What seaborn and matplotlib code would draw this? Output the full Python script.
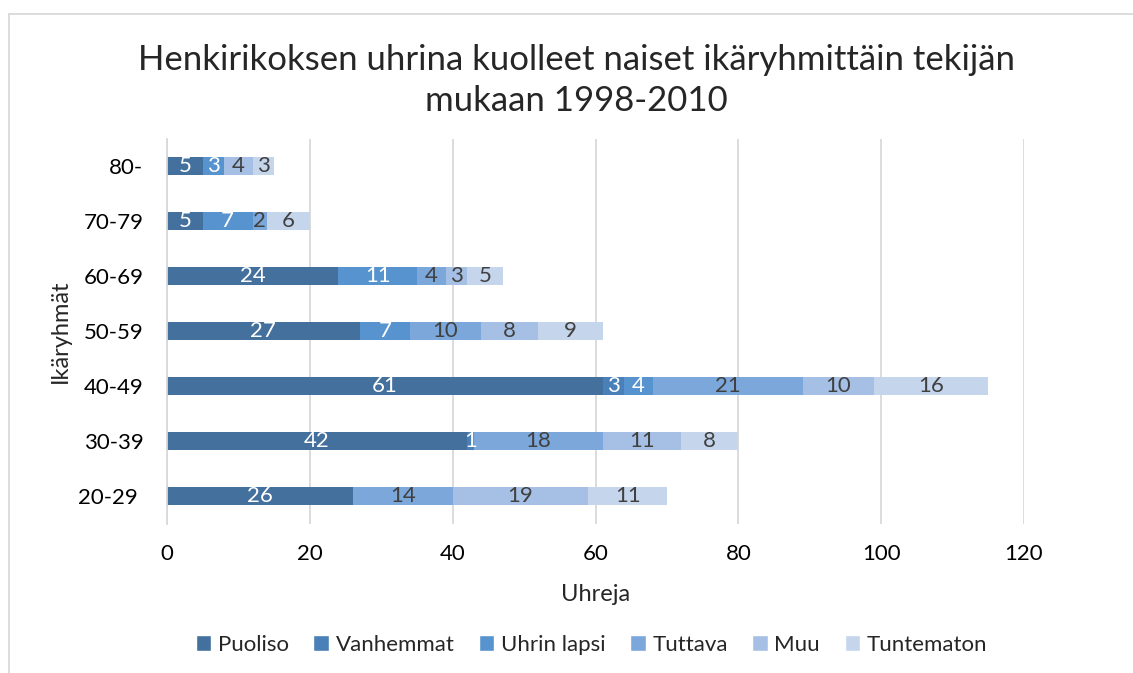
import numpy as np
import pandas as pd
import matplotlib.pyplot as plt
import seaborn as sns
from matplotlib.patches import Patch, Rectangle

# age groups, top to bottom as shown
groups = ["80-", "70-79", "60-69", "50-59", "40-49", "30-39", "20-29"]
tick_labels = ["80-", "70-79", "60-69", "50-59", "40-49", "30-39", "20-29 "]

series = ["Puoliso", "Vanhemmat", "Uhrin lapsi", "Tuttava", "Muu", "Tuntematon"]
puoliso = [5, 5, 24, 27, 61, 42, 26]
vanhemmat = [0, 0, 0, 0, 3, 1, 0]
uhrin_lapsi = [3, 7, 11, 7, 4, 0, 0]
tuttava = [0, 2, 4, 10, 21, 18, 14]
muu = [4, 0, 3, 8, 10, 11, 19]
tuntematon = [3, 6, 5, 9, 16, 8, 11]

colors = ["#43709d", "#4a80b8", "#5793ce", "#7ba7da", "#a5c0e4", "#c5d5ec"]
label_colors = ["white", "white", "white", "#404040", "#404040", "#404040"]

df = pd.DataFrame({"group": groups, "Puoliso": puoliso, "Vanhemmat": vanhemmat,
                   "Uhrin lapsi": uhrin_lapsi, "Tuttava": tuttava, "Muu": muu,
                   "Tuntematon": tuntematon})
cum = df[series].cumsum(axis=1)

sns.set_style("white")
plt.rcParams['font.family'] = ['Lato', 'DejaVu Sans']

fig = plt.figure(figsize=(11.33, 6.73), dpi=100)
ax = fig.add_axes([0.1474, 0.2221, 0.9038 - 0.1474, 0.7942 - 0.2221])

# stacked bars: draw totals first, then smaller cumulative sums on top
for i in range(len(series) - 1, -1, -1):
    tmp = pd.DataFrame({"group": groups, "val": cum[series[i]]})
    sns.barplot(data=tmp, x="val", y="group", order=groups, color=colors[i],
                width=0.33, saturation=1, ax=ax, linewidth=0)

for i, s in enumerate(series):
    for j in range(len(groups)):
        v = df[s].iloc[j]
        if v > 0:
            ax.text(cum[s].iloc[j] - v / 2, j, str(v), ha="center", va="center",
                    color=label_colors[i], fontsize=16)

ax.set_xlim(0, 120)
ax.set_xticks(range(0, 121, 20))
ax.set_ylim(6.5, -0.5)
ax.set_yticks(range(len(groups)))
ax.set_yticklabels(tick_labels)
ax.grid(axis="x", color="#d9d9d9", linewidth=1.3)
ax.set_axisbelow(True)
for sp in ["top", "right", "bottom"]:
    ax.spines[sp].set_visible(False)
ax.spines["left"].set_color("#d9d9d9")
ax.spines["left"].set_linewidth(1.3)
ax.tick_params(axis="x", length=0, pad=15, labelsize=16, labelcolor="#000000")
ax.tick_params(axis="y", length=0, pad=17, labelsize=16, labelcolor="#000000")
ax.set_xlabel("Uhreja", fontsize=17, labelpad=14)
ax.set_ylabel("Ikäryhmät", fontsize=17, labelpad=5)

fig.text(0.509, 0.881, "Henkirikoksen uhrina kuolleet naiset ikäryhmittäin tekijän\nmukaan 1998-2010",
         ha="center", va="center", fontsize=25, linespacing=1.35)

handles = [Patch(facecolor=c, label=s) for c, s in zip(colors, series)]
fig.legend(handles=handles, loc="center", bbox_to_anchor=(0.522, 0.0416), ncol=6,
           frameon=False, fontsize=16, handlelength=0.7, handleheight=0.7,
           handletextpad=0.3, columnspacing=1.1)

fig.patches.append(Rectangle((9 / 1133, -0.1), 1.2, 1 - 14 / 673 + 0.1, transform=fig.transFigure,
                             fill=False, edgecolor="#d9d9d9", linewidth=1.3))

fig.savefig("out.png", dpi=100)
